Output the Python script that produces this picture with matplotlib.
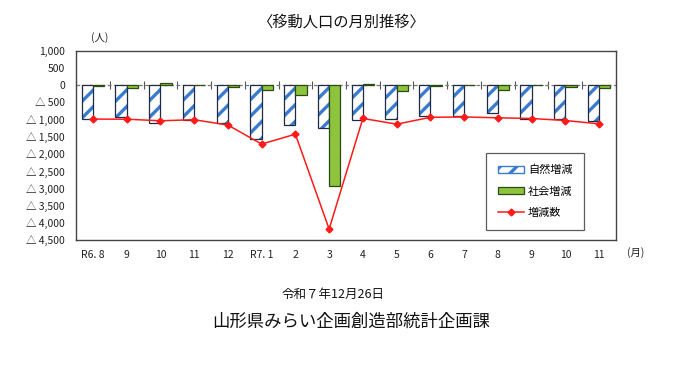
import matplotlib
matplotlib.use("Agg")
import matplotlib.pyplot as plt
import numpy as np
from matplotlib.patches import Patch
from matplotlib.lines import Line2D

plt.rcParams['font.family'] = ['Noto Sans CJK JP', 'DejaVu Sans']

categories = ["R6. 8", "9", "10", "11", "12", "R7. 1", "2", "3", "4", "5", "6", "7", "8", "9", "10", "11"]
natural = [-970, -920, -1090, -1010, -1110, -1580, -1160, -1260, -1000, -970, -910, -910, -820, -990, -980, -1040]
social = [-30, -80, 50, 10, -50, -130, -280, -2920, 30, -170, -20, -10, -130, -10, -50, -90]
total = [-987, -990, -1036, -1005, -1160, -1713, -1425, -4182, -968, -1135, -935, -925, -950, -970, -1028, -1125]
yticks = [1000, 500, 0, -500, -1000, -1500, -2000, -2500, -3000, -3500, -4000, -4500]

def fmt(v):
    if v < 0:
        return "△ " + f"{-v:,}"
    return f"{v:,}"

fig = plt.figure(figsize=(6.8, 3.65), dpi=100)
ax = fig.add_axes([76/680, 1-240/365, 540/680, (240-50.7)/365])

x = np.arange(len(categories))
w = 0.33
plt.rcParams['hatch.linewidth'] = 2.4
ax.bar(x - w/2, natural, width=w, facecolor='white', edgecolor='#3A7BD0', hatch='//', linewidth=0, zorder=2)
ax.bar(x - w/2, natural, width=w, fill=False, edgecolor='#1F2A44', linewidth=0.9, zorder=3)
ax.bar(x + w/2, social, width=w, facecolor='#8DC43C', edgecolor='#2B4A16', linewidth=0.9, zorder=3)
ax.plot(x, total, color='#FF1A1A', linewidth=1.1, marker='D', markersize=3.5, zorder=4)

ax.set_xlim(-0.5, len(categories) - 0.5)
ax.set_ylim(-4500, 1000)
ax.set_yticks(yticks)
ax.set_yticklabels([fmt(v) for v in yticks], fontsize=7.5, color='#222222')
ax.set_xticks(x)
ax.set_xticklabels(categories, fontsize=7.5, color='#222222')
ax.tick_params(axis='both', length=0)
ax.tick_params(axis='x', pad=7)
ax.tick_params(axis='y', pad=8)
for s in ax.spines.values():
    s.set_color('#444444')
    s.set_linewidth(1.0)

# zero line with boundary ticks
ax.axhline(0, color='#777777', linewidth=0.9, linestyle=(0, (3, 2)), zorder=1)
zero_frac = (0 - ax.get_ylim()[0]) / (ax.get_ylim()[1] - ax.get_ylim()[0])
sec = ax.secondary_xaxis(zero_frac)
sec.set_xticks(np.arange(len(categories) + 1) - 0.5)
sec.set_xticklabels([])
sec.tick_params(direction='inout', length=6, color='#555555', width=0.8)
sec.spines['bottom'].set_visible(False)
sec.spines['top'].set_visible(False)

handles = [
    Patch(facecolor='white', edgecolor='#3A7BD0', hatch='//', linewidth=1.0),
    Patch(facecolor='#8DC43C', edgecolor='#2B4A16', linewidth=0.9),
    Line2D([0], [0], color='#FF1A1A', linewidth=1.1, marker='D', markersize=3.5),
]
leg = ax.legend(handles, ["自然増減", "社会増減", "増減数"], loc='center',
                bbox_to_anchor=(0.85, 0.256), fontsize=8, frameon=True,
                fancybox=False, edgecolor='#333333', labelspacing=1.0,
                handlelength=2.4, handleheight=0.55, borderpad=1.05, borderaxespad=0,
                handletextpad=0.3)
leg.get_frame().set_linewidth(0.9)

fig.text(100/680, 1-38/365, "(人)", fontsize=7.5, ha='center', va='center', color='#222222')
fig.text(636/680, 1-253/365, "(月)", fontsize=7.5, ha='center', va='center', color='#222222')
fig.text(341/680, 1-22/365, "〈移動人口の月別推移〉", fontsize=11, ha='center', va='center', color='#111111')
fig.text(333/680, 1-294/365, "令和７年12月26日", fontsize=9, ha='center', va='center', color='#111111')
fig.text(351/680, 1-322/365, "山形県みらい企画創造部統計企画課", fontsize=12.5, ha='center', va='center', color='#111111')

fig.savefig("out.png", dpi=100)
